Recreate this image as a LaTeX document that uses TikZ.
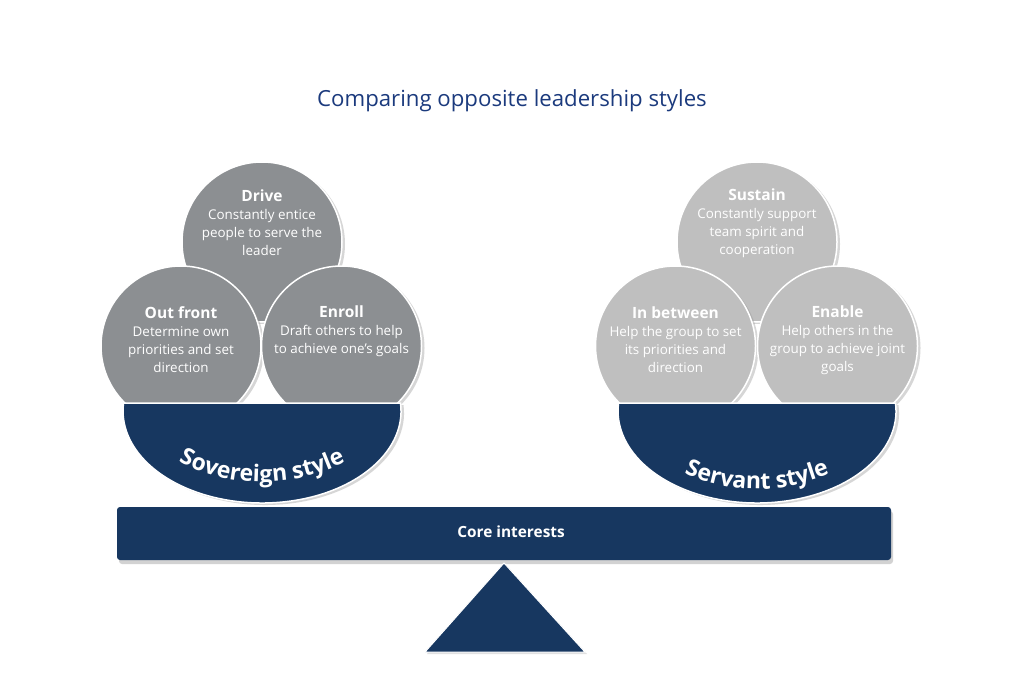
\documentclass[tikz,border=0pt]{standalone}
\usepackage{fontspec}
\setmainfont{Open Sans}
\usetikzlibrary{shadows,decorations.text}
\definecolor{navy}{RGB}{23,55,96}
\definecolor{titleblue}{RGB}{27,58,125}
\definecolor{dgray}{RGB}{140,143,146}
\definecolor{lgray}{RGB}{191,191,191}
\newcommand{\ctitle}[1]{{\bfseries\fontsize{15.5}{18}\selectfont #1}}
\tikzset{
  shadowed/.style={drop shadow={shadow xshift=3pt, shadow yshift=-2pt, fill=black!40, opacity=0.4}},
  circbase/.style={circle, minimum size=160pt, inner sep=0pt, draw=white, line width=1.5pt, shadowed},
  dcirc/.style={circbase, fill=dgray},
  lcirc/.style={circbase, fill=lgray},
  ctext/.style={text=white, align=center, font=\fontsize{13.4}{18}\selectfont, inner sep=0pt},
  bowl/.style={fill=navy, draw=white, line width=1.5pt, shadowed},
}
\begin{document}
\begin{tikzpicture}[x=1pt,y=-1pt]
\useasboundingbox (0,0) rectangle (1024,676);
\fill[white] (0,0) rectangle (1024,676);

% title
\node[text=titleblue, font=\fontsize{22.2}{26}\selectfont] (title) at (512,101) {Comparing opposite leadership styles};

% ---------------- left group ----------------
\node[dcirc] (drive) at (262,242) {};
\node[dcirc] (outfront) at (181,346) {};
\node[dcirc] (enroll) at (341.5,346) {};
\node[ctext] (drivet) at (262,223) {\ctitle{Drive}\\Constantly entice\\people to serve the\\leader};
\node[ctext] (outfrontt) at (181,340) {\ctitle{Out front}\\Determine own\\priorities and set\\direction};
\node[ctext] (enrollt) at (341.5,331) {\ctitle{Enroll}\\Draft others to help\\to achieve one's goals};
\path[bowl] (124,403) -- (400.5,403) arc[start angle=-5, end angle=185, x radius=139, y radius=92] -- cycle;
\path[decorate, decoration={text along path, text align=center, text color=white,
  text={|\fontsize{23}{23}\selectfont\bfseries|Sovereign style}}]
  (262,300) ++(140:182) arc[start angle=140, end angle=40, radius=182];

% ---------------- right group ----------------
\node[lcirc] (sustain) at (757,242) {};
\node[lcirc] (inbetween) at (675.5,346) {};
\node[lcirc] (enable) at (837.5,346) {};
\node[ctext] (sustaint) at (757,223) {\ctitle{Sustain}\\Constantly support\\team spirit and\\cooperation};
\node[ctext] (inbetweent) at (675.5,340) {\ctitle{In between}\\Help the group to set\\its priorities and\\direction};
\node[ctext] (enablet) at (837.5,340) {\ctitle{Enable}\\Help others in the\\group to achieve joint\\goals};
\path[bowl] (619,403) -- (895.5,403) arc[start angle=-5, end angle=185, x radius=139, y radius=92] -- cycle;
\path[decorate, decoration={text along path, text align=center, text color=white,
  text={|\fontsize{23}{23}\selectfont\bfseries|Servant style}}]
  (757,307) ++(140:182) arc[start angle=140, end angle=40, radius=182];

% ---------------- beam and fulcrum ----------------
\node[fill=navy, rounded corners=3pt, minimum width=774pt, minimum height=53pt, inner sep=0pt,
  drop shadow={shadow xshift=2pt, shadow yshift=-4pt, fill=black!35, opacity=0.5}] (beam) at (504,533.5) {};
\node[text=white, font=\fontsize{15.4}{18}\selectfont\bfseries] (core) at (511,532) {Core interests};
\path[fill=navy, draw=white, line width=1pt, drop shadow={shadow xshift=2pt, shadow yshift=-2pt, fill=black!30, opacity=0.4}]
  (504,563) -- (585,652) -- (425,652) -- cycle;
\end{tikzpicture}
\end{document}
